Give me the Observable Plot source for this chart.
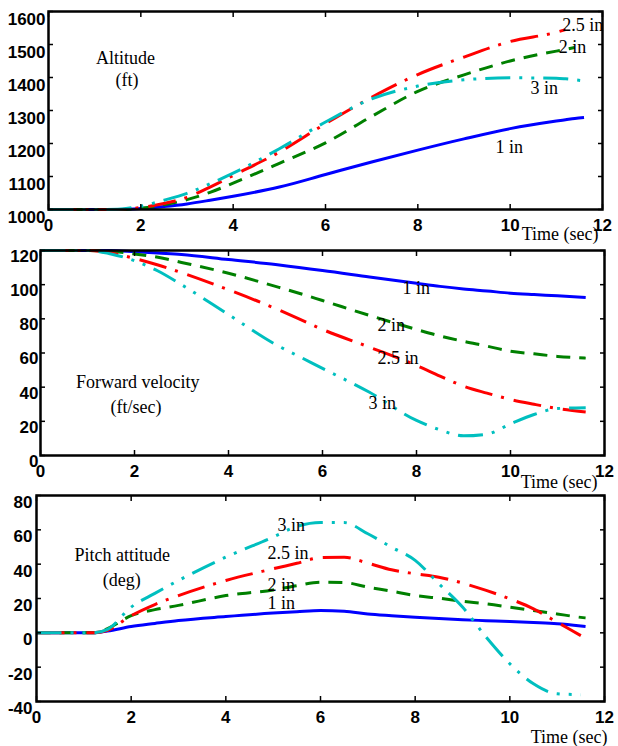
<!DOCTYPE html>
<html><head><meta charset="utf-8">
<script src="https://cdn.jsdelivr.net/npm/d3@7"></script>
<script src="https://cdn.jsdelivr.net/npm/@observablehq/plot@0.6"></script>
<style>
body{margin:0;background:#fff;}
#chart{width:618px;height:746px;position:relative;overflow:hidden;background:#fff;}
#chart svg{display:block;overflow:visible;}
</style></head><body><div id="chart"></div>
<script>
// ---------- series definitions ----------
const seriesNames = ["1 in", "2 in", "2.5 in", "3 in"];
const seriesColors = ["#0000ff", "#008000", "#ff0000", "#00bfbf"];
const seriesDash = [null, "14,9", "28,9,3,10", "25,9,3,9,3,9"];

const xTicks = [0, 2, 4, 6, 8, 10, 12];

// ---------- Altitude (ft) ----------
const altTime = [0, 1, 1.5, 2, 2.5, 3, 3.5, 4, 5, 6, 7, 8, 9, 10, 11, 11.2, 11.4, 11.6];
const alt1in  = [1000, 1000, 1000, 1003, 1009, 1017, 1028, 1040, 1068, 1106, 1144, 1180, 1214, 1245, 1268, 1272, 1276, 1279];
const alt2in  = [1000, 1000, 1000, 1004, 1014, 1030, 1052, 1080, 1140, 1202, 1282, 1358, 1408, 1450, 1480, 1485, 1491, null];
const alt25in = [1000, 1000, 1000, 1006, 1018, 1037, 1068, 1103, 1174, 1260, 1340, 1409, 1462, 1509, 1537, 1545, null, null];
const alt3in  = [1000, 1000, 1001, 1010, 1028, 1049, 1078, 1110, 1184, 1265, 1335, 1374, 1393, 1399, 1398, 1396, 1393, 1390];
const altTicks = [1000, 1100, 1200, 1300, 1400, 1500, 1600];
const altLabelText = ["2.5 in", "2 in", "3 in", "1 in"];
const altLabelX = [11.13, 11.05, 10.44, 9.68];
const altLabelY = [1558, 1491, 1367, 1188];
const altTitle = ["Altitude", "(ft)"];
const altTitleX = [1.67, 1.70];
const altTitleY = [1458, 1391];

// ---------- Forward velocity (ft/sec) ----------
const velTime = [0, 1, 1.5, 2, 2.5, 3, 4, 5, 5.5, 6, 7, 8, 8.5, 9, 9.5, 10, 10.5, 11, 11.6];
const vel1in  = [120, 120, 120, 119.3, 118.5, 117.7, 114.7, 111.8, 110, 108.3, 104.5, 100.8, 99, 97.5, 96.3, 95, 94.2, 93.5, 92.5];
const vel2in  = [120, 120, 119.5, 118, 116, 113, 106.7, 99, 95, 90.7, 82, 73.8, 70, 66.8, 64, 61, 59.5, 58, 57];
const vel25in = [120, 120, 118.5, 115.4, 111.5, 107, 97, 86, 80, 73.8, 63.4, 52.7, 46.5, 40.6, 36.5, 32.8, 30, 27.5, 25.4];
const vel3in  = [120, 120, 118, 114, 108, 100, 82.5, 65, 58, 51, 37, 20.5, 15, 11.5, 12.5, 18.5, 24, 27.5, 28];
const velTicks = [0, 20, 40, 60, 80, 100, 120];
const velLabelText = ["1 in", "2 in", "2.5 in", "3 in"];
const velLabelX = [7.70, 7.17, 7.17, 6.98];
const velLabelY = [97.8, 76.1, 56.8, 30.4];
const velTitle = ["Forward velocity", "(ft/sec)"];
const velTitleX = [2.07, 2.03];
const velTitleY = [42.7, 28.1];

// ---------- Pitch attitude (deg) ----------
const pitTime = [0, 1, 1.2, 1.5, 2, 2.5, 3, 4, 5, 5.5, 6, 6.5, 7, 7.5, 8, 8.5, 9, 9.5, 10, 10.5, 11, 11.5, 11.6];
const pit1in  = [0, 0, 0, 1, 3.7, 5.5, 7.2, 9.5, 11.5, 12.3, 13, 12.6, 11, 10, 9.1, 8.3, 7.6, 7.1, 6.6, 6, 5.3, 4, 3.7];
const pit2in  = [0, 0, 0, 2.5, 10, 13.5, 16, 21.7, 25, 27.5, 29.5, 29.3, 26.6, 24.3, 21.7, 20.2, 18.4, 16.9, 15, 13, 11, 9, 8.7];
const pit25in = [0, 0, 0, 1.5, 10, 16.5, 21.7, 30.5, 37.3, 40.5, 43.8, 44, 40.6, 36.7, 34.4, 32.4, 29, 24.7, 19.8, 14, 6.2, -1.6, null];
const pit3in  = [0, 0, 0, 2, 15, 23, 30.5, 44.1, 55.8, 62, 64.3, 64.2, 57.7, 49.9, 42.2, 28.6, 15, -2.5, -18, -29.7, -35.5, -36, null];
const pitTicks = [-40, -20, 0, 20, 40, 60, 80];
const pitLabelText = ["3 in", "2.5 in", "2 in", "1 in"];
const pitLabelX = [5.09, 4.88, 4.88, 4.88];
const pitLabelY = [62.5, 46.2, 27.5, 17.1];
const pitTitle = ["Pitch attitude", "(deg)"];
const pitTitleX = [1.81, 1.80];
const pitTitleY = [45, 30.5];

const xLabel = "Time (sec)";

// ---------- helpers ----------
const SANS = "'Liberation Sans', Arial, Helvetica, sans-serif";
const SERIF = "'Liberation Serif', 'Times New Roman', Times, serif";
const plain = d => String(d);

function rows(time, values) {
  return time.map((t, i) => ({t, v: values[i]}));
}

function panel(cfg) {
  const lineMarks = cfg.series.map((vals, i) =>
    Plot.line(rows(cfg.time, vals), {
      x: "t", y: "v",
      stroke: seriesColors[i],
      strokeWidth: 3,
      strokeDasharray: seriesDash[i] || undefined,
      curve: "monotone-x",
      strokeLinecap: "butt"
    })
  );
  const labelRows = cfg.labelText.map((s, i) => ({s, x: cfg.labelX[i], y: cfg.labelY[i]}));
  const titleRows = cfg.title.map((s, i) => ({s, x: cfg.titleX[i], y: cfg.titleY[i]}));
  return Plot.plot({
    width: 618,
    height: cfg.height,
    marginTop: cfg.mt, marginBottom: cfg.mb, marginLeft: cfg.ml, marginRight: cfg.mr,
    style: {background: "transparent", overflow: "visible"},
    x: {domain: [0, 12]},
    y: {domain: cfg.yDomain},
    marks: [
      ...lineMarks,
      Plot.text(labelRows, {x: "x", y: "y", text: "s", textAnchor: "start", fontFamily: SERIF, fontSize: 18, fill: "#000"}),
      Plot.text(titleRows, {x: "x", y: "y", text: "s", textAnchor: "middle", fontFamily: SERIF, fontSize: 18, fill: "#000"}),
      Plot.axisY(cfg.yTicks, {anchor: "left", tickSize: 0, tickPadding: cfg.yPad, dy: cfg.yDy, tickFormat: plain, fontSize: 17, fontWeight: "bold", fontFamily: SANS, fill: "#000", label: null}),
      Plot.axisY(cfg.yTicks, {anchor: "left", tickSize: -5, strokeWidth: 1.5, tickFormat: () => "", label: null}),
      Plot.axisY(cfg.yTicks, {anchor: "right", tickSize: -5, strokeWidth: 1.5, tickFormat: () => "", label: null}),
      Plot.axisX(xTicks, {anchor: "bottom", tickSize: 0, tickPadding: 9, tickFormat: plain, fontSize: 17, fontWeight: "bold", fontFamily: SANS, fill: "#000", label: null}),
      Plot.axisX(xTicks, {anchor: "bottom", tickSize: -5, strokeWidth: 1.5, tickFormat: () => "", label: null}),
      Plot.axisX(xTicks, {anchor: "top", tickSize: -5, strokeWidth: 1.5, tickFormat: () => "", label: null}),
      Plot.frame({stroke: "#000", strokeWidth: 2.5}),
      Plot.text([xLabel], {frameAnchor: "bottom-right", textAnchor: "end", lineAnchor: "middle", dy: cfg.tDy, dx: cfg.tDx, fontFamily: SERIF, fontSize: 18, fill: "#000"})
    ]
  });
}

const chart = document.getElementById("chart");
chart.appendChild(panel({
  height: 240, mt: 11, mb: 31, ml: 48, mr: 16,
  time: altTime, series: [alt1in, alt2in, alt25in, alt3in],
  yDomain: [1000, 1600], yTicks: altTicks, yPad: 3, yDy: 8,
  labelText: altLabelText, labelX: altLabelX, labelY: altLabelY,
  title: altTitle, titleX: altTitleX, titleY: altTitleY,
  tDy: 25, tDx: -4
}));
chart.appendChild(panel({
  height: 250, mt: 10, mb: 35, ml: 40, mr: 14,
  time: velTime, series: [vel1in, vel2in, vel25in, vel3in],
  yDomain: [0, 120], yTicks: velTicks, yPad: 2, yDy: 6,
  labelText: velLabelText, labelX: velLabelX, labelY: velLabelY,
  title: velTitle, titleX: velTitleX, titleY: velTitleY,
  tDy: 27, tDx: -7
}));
chart.appendChild(panel({
  height: 256, mt: 5, mb: 45, ml: 36, mr: 14,
  time: pitTime, series: [pit1in, pit2in, pit25in, pit3in],
  yDomain: [-40, 80], yTicks: pitTicks, yPad: 4, yDy: 7,
  labelText: pitLabelText, labelX: pitLabelX, labelY: pitLabelY,
  title: pitTitle, titleX: pitTitleX, titleY: pitTitleY,
  tDy: 36, tDx: 3
}));
</script>
</body></html>
